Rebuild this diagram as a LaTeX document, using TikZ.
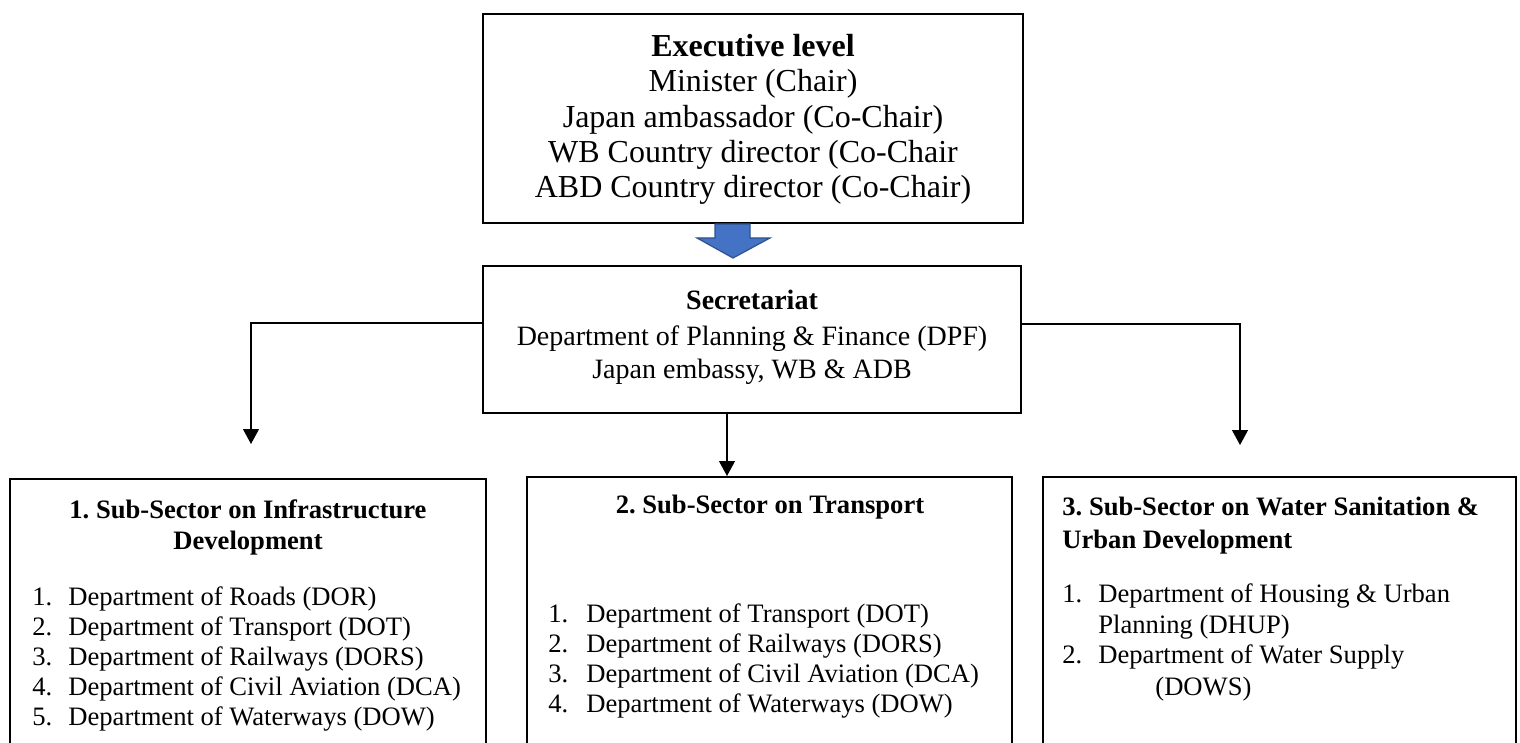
\documentclass[tikz,border=0pt]{standalone}
\usepackage{fontspec}
\setmainfont{Liberation Serif}
\usetikzlibrary{arrows.meta,fit,calc}
\definecolor{arrowblue}{HTML}{4472C4}
\definecolor{arrowedge}{HTML}{2F528F}
\frenchspacing
\begin{document}
\begin{tikzpicture}[x=0.5pt,y=-0.5pt,
  box/.style={draw, line width=1pt, inner sep=0pt},
  conn/.style={line width=0.6pt, -{Triangle[length=7.5pt,width=8pt]}},
  big/.style={font=\fontsize{16}{18}\selectfont, inner sep=0pt, anchor=base},
  mid/.style={font=\fontsize{14}{16}\selectfont, inner sep=0pt, anchor=base},
  sml/.style={font=\fontsize{13.3}{15}\selectfont, inner sep=0pt, anchor=base},
  smll/.style={font=\fontsize{13.3}{15}\selectfont, inner sep=0pt, anchor=base west}]
\useasboundingbox (0,0) rectangle (1520,743);
\clip (0,0) rectangle (1520,743);
% box corners
\coordinate (e1) at (483,14);   \coordinate (e2) at (1023,223);
\coordinate (s1) at (483,266);  \coordinate (s2) at (1021,413);
\coordinate (l1) at (10,479);   \coordinate (l2) at (486,760);
\coordinate (m1) at (527,477);  \coordinate (m2) at (1012,760);
\coordinate (r1) at (1043,477); \coordinate (r2) at (1516,760);
\node[box, fit=(e1)(e2)] (exec) {};
\node[box, fit=(s1)(s2)] (sec) {};
\node[box, fit=(l1)(l2)] (left) {};
\node[box, fit=(m1)(m2)] (middle) {};
\node[box, fit=(r1)(r2)] (right) {};
% executive text
\node[big] (ex0) at (753,57) {\textbf{Executive level}};
\node[big] (ex1) at (753,92) {Minister (Chair)};
\node[big] (ex2) at (753,128) {Japan ambassador (Co-Chair)};
\node[big] (ex3) at (753,163) {WB Country director (Co-Chair};
\node[big] (ex4) at (753,198) {ABD Country director (Co-Chair)};
% secretariat text
\node[mid] (se0) at (752,309) {\textbf{Secretariat}};
\node[mid] (se1) at (752,345) {Department of Planning \& Finance (DPF)};
\node[mid] (se2) at (752,378) {Japan embassy, WB \& ADB};
% blue block arrow
\filldraw[fill=arrowblue, draw=arrowedge, line width=0.6pt]
  (715,224) -- (750,224) -- (750,238) -- (770,238) -- (733,258) -- (697,238) -- (715,238) -- cycle;
% connectors
\coordinate (lstart) at (483,323);
\coordinate (ltip) at (251,444);
\coordinate (rstart) at (1021,324);
\coordinate (rtip) at (1240,445);
\coordinate (mx) at (727,0);
\draw[conn] (sec.west |- lstart) -| (ltip);
\draw[conn] (sec.east |- rstart) -| (rtip);
\draw[conn] (sec.south -| mx) -- (middle.north -| mx);
% left box text
\node[sml] (lh1) at (248,518) {\textbf{1.\ Sub-Sector on Infrastructure}};
\node[sml] (lh2) at (248,549) {\textbf{Development}};
\foreach \n/\t/\y in {1/Department of Roads (DOR)/605,
                       2/Department of Transport (DOT)/635,
                       3/Department of Railways (DORS)/665,
                       4/Department of Civil Aviation (DCA)/695,
                       5/Department of Waterways (DOW)/725}{
  \node[smll] (ln\n) at (32,\y) {\n.};
  \node[smll] (lt\n) at (68,\y) {\t};
}
% middle box text
\node[sml] (mh) at (770,513) {\textbf{2.\ Sub-Sector on Transport}};
\foreach \n/\t/\y in {1/Department of Transport (DOT)/622,
                       2/Department of Railways (DORS)/652,
                       3/Department of Civil Aviation (DCA)/682,
                       4/Department of Waterways (DOW)/712}{
  \node[smll] (mn\n) at (548,\y) {\n.};
  \node[smll] (mt\n) at (586,\y) {\t};
}
% right box text
\node[smll] (rh1) at (1062,515) {\textbf{3.\ Sub-Sector on Water Sanitation \&}};
\node[smll] (rh2) at (1062,548) {\textbf{Urban Development}};
\node[smll] (rn1) at (1062,602) {1.};
\node[smll] (rt1) at (1098,602) {Department of Housing \& Urban};
\node[smll] (rt1b) at (1098,633) {Planning (DHUP)};
\node[smll] (rn2) at (1062,663) {2.};
\node[smll] (rt2) at (1098,663) {Department of Water Supply};
\node[smll] (rt2b) at (1155,695) {(DOWS)};
\end{tikzpicture}
\end{document}
